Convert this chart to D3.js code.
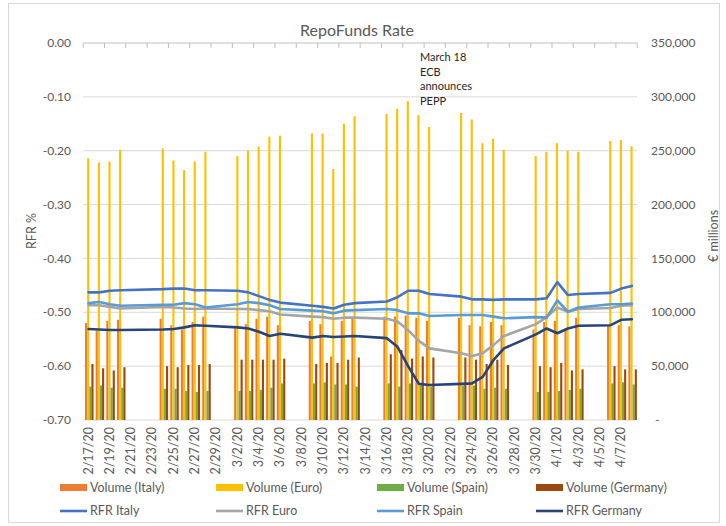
<!DOCTYPE html>
<html>
<head>
<meta charset="utf-8">
<script src="https://cdn.jsdelivr.net/npm/d3@7"></script>
<style>
body { margin: 0; background: #fff; }
svg { display: block; font-family: Lato, 'Open Sans', sans-serif; }
</style>
</head>
<body>
<div id="chart"></div>
<script>
// business days that have data (m/d, 2020)
const days = ['2/17','2/18','2/19','2/20','2/24','2/25','2/26','2/27','2/28',
  '3/2','3/3','3/4','3/5','3/6','3/9','3/10','3/11','3/12','3/13',
  '3/16','3/17','3/18','3/19','3/20','3/23','3/24','3/25','3/26','3/27',
  '3/30','3/31','4/1','4/2','4/3','4/6','4/7','4/8']

// volumes, € millions
const volItaly = [90000,83000,92000,93000,94000,88000,84000,91000,96000,85000,89000,94000,96000,88000,92000,89000,59000,92000,94000,
  96000,96000,97000,95000,92000,95000,88000,87000,91000,88000,84000,91000,92000,85000,95000,88000,88000,87000]
const volEuro = [243000,239000,240000,251000,252000,241000,232000,240000,249000,245000,250000,254000,263000,264000,266000,266000,233000,275000,282000,
  284000,289000,296000,283000,272000,285000,279000,257000,261000,251000,245000,249000,257000,250000,249000,259000,260000,254000]
const volSpain = [31000,32000,30000,30000,29000,29000,27000,26000,27000,27000,27000,28000,30000,34000,34000,35000,33000,33000,31000,
  34000,31000,34000,32000,31000,32000,32000,29000,30000,29000,26000,26000,27000,28000,29000,34000,35000,33000]
const volGermany = [52000,48000,46000,49000,50000,49000,51000,51000,52000,56000,56000,56000,56000,57000,52000,53000,53000,56000,58000,
  61000,65000,57000,59000,58000,58000,56000,52000,56000,51000,50000,49000,53000,46000,47000,50000,47000,47000]

// rates, %
const rfrItaly = [-0.463,-0.463,-0.460,-0.459,-0.457,-0.456,-0.456,-0.459,-0.459,-0.460,-0.463,-0.470,-0.477,-0.482,-0.488,-0.490,-0.493,-0.486,-0.483,
  -0.480,-0.472,-0.460,-0.460,-0.466,-0.471,-0.476,-0.476,-0.477,-0.476,-0.476,-0.474,-0.444,-0.468,-0.466,-0.464,-0.456,-0.451]
const rfrEuro = [-0.487,-0.487,-0.490,-0.493,-0.490,-0.491,-0.493,-0.494,-0.493,-0.494,-0.494,-0.496,-0.498,-0.504,-0.508,-0.509,-0.512,-0.510,-0.510,
  -0.512,-0.517,-0.533,-0.553,-0.567,-0.576,-0.581,-0.576,-0.561,-0.544,-0.522,-0.509,-0.491,-0.499,-0.494,-0.492,-0.488,-0.487]
const rfrSpain = [-0.483,-0.481,-0.485,-0.488,-0.486,-0.486,-0.483,-0.485,-0.491,-0.485,-0.481,-0.483,-0.487,-0.494,-0.497,-0.498,-0.502,-0.497,-0.496,
  -0.494,-0.496,-0.502,-0.502,-0.507,-0.505,-0.505,-0.505,-0.508,-0.511,-0.509,-0.510,-0.478,-0.499,-0.491,-0.485,-0.485,-0.484]
const rfrGermany = [-0.531,-0.532,-0.533,-0.533,-0.532,-0.531,-0.528,-0.524,-0.525,-0.528,-0.530,-0.536,-0.544,-0.540,-0.547,-0.544,-0.546,-0.545,-0.544,
  -0.548,-0.564,-0.600,-0.633,-0.635,-0.633,-0.632,-0.620,-0.589,-0.567,-0.541,-0.530,-0.539,-0.530,-0.525,-0.524,-0.514,-0.513]

const leftTicks = [0, -0.1, -0.2, -0.3, -0.4, -0.5, -0.6, -0.7]
const rightTicks = [0, 50000, 100000, 150000, 200000, 250000, 300000, 350000]
const note = ['March 18', 'ECB', 'announces', 'PEPP']

const barSeries = [
  { name: 'Volume (Italy)', values: volItaly, color: '#ED7D31' },
  { name: 'Volume (Euro)', values: volEuro, color: '#FFC000' },
  { name: 'Volume (Spain)', values: volSpain, color: '#70AD47' },
  { name: 'Volume (Germany)', values: volGermany, color: '#9E480E' }
]
const lineSeries = [
  { name: 'RFR Italy', values: rfrItaly, color: '#4472C4' },
  { name: 'RFR Euro', values: rfrEuro, color: '#A5A5A5' },
  { name: 'RFR Spain', values: rfrSpain, color: '#5B9BD5' },
  { name: 'RFR Germany', values: rfrGermany, color: '#264478' }
]

const W = 726, H = 526
const plotLeft = 83.2, plotRight = 637.2, plotTop = 43, plotBottom = 420
const textColor = '#595959'

let svg = d3.select('#chart').append('svg')
    .attr('width', W)
    .attr('height', H)

svg.append('rect')
    .attr('x', 8.5).attr('y', 3.5)
    .attr('width', 711).attr('height', 519)
    .attr('fill', 'white')
    .attr('stroke', '#d9d9d9')

let parse = d3.timeParse('%m/%d/%Y')
let allDays = d3.timeDay.range(parse('02/17/2020'), parse('04/09/2020'))
let fmt = d3.timeFormat('%-m/%-d')
let labelFmt = d3.timeFormat('%-m/%-d/%y')

let x = d3.scaleBand()
    .domain(allDays.map(fmt))
    .range([plotLeft, plotRight])
    .padding(0)
let bw = x.bandwidth()
let xInner = d3.scaleBand()
    .domain(barSeries.map(s => s.name))
    .range([bw * 0.17, bw * 0.97])

let yL = d3.scaleLinear().domain([-0.7, 0]).range([plotBottom, plotTop])
let yR = d3.scaleLinear().domain([0, 350000]).range([plotBottom, plotTop])

// gridlines
svg.append('g')
    .selectAll('line')
    .data(leftTicks.filter(t => t != 0))
    .enter()
    .append('line')
        .attr('x1', plotLeft).attr('x2', plotRight)
        .attr('y1', d => yL(d)).attr('y2', d => yL(d))
        .attr('stroke', '#d9d9d9')
        .attr('stroke-width', 1)

// category axis line sits at 0.00 (top)
svg.append('line')
    .attr('x1', plotLeft).attr('x2', plotRight)
    .attr('y1', yL(0)).attr('y2', yL(0))
    .attr('stroke', '#bfbfbf')
svg.append('g')
    .selectAll('line')
    .data(allDays.filter((d, i) => i % 2 == 0))
    .enter()
    .append('line')
        .attr('x1', d => x(fmt(d))).attr('x2', d => x(fmt(d)))
        .attr('y1', yL(0)).attr('y2', yL(0) + 5)
        .attr('stroke', '#bfbfbf')
svg.append('line')
    .attr('x1', plotRight).attr('x2', plotRight)
    .attr('y1', yL(0)).attr('y2', yL(0) + 5)
    .attr('stroke', '#bfbfbf')

// bars
let barGroup = svg.append('g')
barSeries.forEach(s => {
  barGroup.selectAll(null)
      .data(days.map((d, i) => ({ day: d, v: s.values[i] })))
      .enter()
      .append('rect')
          .attr('x', d => x(d.day) + xInner(s.name))
          .attr('width', xInner.bandwidth())
          .attr('y', d => yR(d.v))
          .attr('height', d => yR(0) - yR(d.v))
          .attr('fill', s.color)
})

// lines
let line = d3.line()
    .x(d => x(d.day) + bw / 2)
    .y(d => yL(d.v))
lineSeries.forEach(s => {
  svg.append('path')
      .datum(days.map((d, i) => ({ day: d, v: s.values[i] })))
      .attr('d', line)
      .attr('fill', 'none')
      .attr('stroke', s.color)
      .attr('stroke-width', 2.6)
      .attr('stroke-linejoin', 'round')
      .attr('stroke-linecap', 'round')
})

// left axis
svg.append('g')
    .selectAll('text')
    .data(leftTicks)
    .enter()
    .append('text')
        .attr('x', 71)
        .attr('y', d => yL(d))
        .attr('dy', '0.35em')
        .attr('text-anchor', 'end')
        .attr('font-size', 12)
        .attr('fill', textColor)
        .text(d => d3.format('.2f')(d).replace('−', '-'))

// right axis
svg.append('g')
    .selectAll('text')
    .data(rightTicks)
    .enter()
    .append('text')
        .attr('x', d => d == 0 ? 655 : 651)
        .attr('y', d => yR(d))
        .attr('dy', '0.35em')
        .attr('font-size', 12)
        .attr('fill', textColor)
        .text(d => d == 0 ? '-' : d3.format(',')(d))

// x labels
svg.append('g')
    .selectAll('text')
    .data(allDays.filter((d, i) => i % 2 == 0))
    .enter()
    .append('text')
        .attr('transform', d => `translate(${x(fmt(d)) + bw / 2 + 4},427) rotate(-90)`)
        .attr('text-anchor', 'end')
        .attr('font-size', 12.5)
        .attr('fill', textColor)
        .text(d => labelFmt(d))

// axis titles
svg.append('text')
    .attr('transform', 'translate(36,231) rotate(-90)')
    .attr('text-anchor', 'middle')
    .attr('font-size', 12.5)
    .attr('fill', textColor)
    .text('RFR %')
svg.append('text')
    .attr('transform', 'translate(718,236) rotate(-90)')
    .attr('text-anchor', 'middle')
    .attr('font-size', 12.5)
    .attr('fill', textColor)
    .text('€ millions')

// title
svg.append('text')
    .attr('x', 357)
    .attr('y', 36)
    .attr('text-anchor', 'middle')
    .attr('font-size', 16)
    .attr('fill', textColor)
    .text('RepoFunds Rate')

// annotation
svg.append('g')
    .selectAll('text')
    .data(note)
    .enter()
    .append('text')
        .attr('x', 420)
        .attr('y', (d, i) => 61 + i * 14.5)
        .attr('font-size', 11)
        .attr('fill', '#262626')
        .text(d => d)

// legend
let legendX = [60, 216, 377, 536]
let legend = svg.append('g')
barSeries.forEach((s, i) => {
  legend.append('rect')
      .attr('x', legendX[i]).attr('y', 484)
      .attr('width', 27).attr('height', 7)
      .attr('fill', s.color)
  legend.append('text')
      .attr('x', legendX[i] + 30).attr('y', 487.5)
      .attr('dy', '0.35em')
      .attr('font-size', 12.5)
      .attr('fill', textColor)
      .text(s.name)
})
lineSeries.forEach((s, i) => {
  legend.append('line')
      .attr('x1', legendX[i]).attr('x2', legendX[i] + 27)
      .attr('y1', 511).attr('y2', 511)
      .attr('stroke', s.color)
      .attr('stroke-width', 2.6)
  legend.append('text')
      .attr('x', legendX[i] + 30).attr('y', 511)
      .attr('dy', '0.35em')
      .attr('font-size', 12.5)
      .attr('fill', textColor)
      .text(s.name)
})
</script>
</body>
</html>
